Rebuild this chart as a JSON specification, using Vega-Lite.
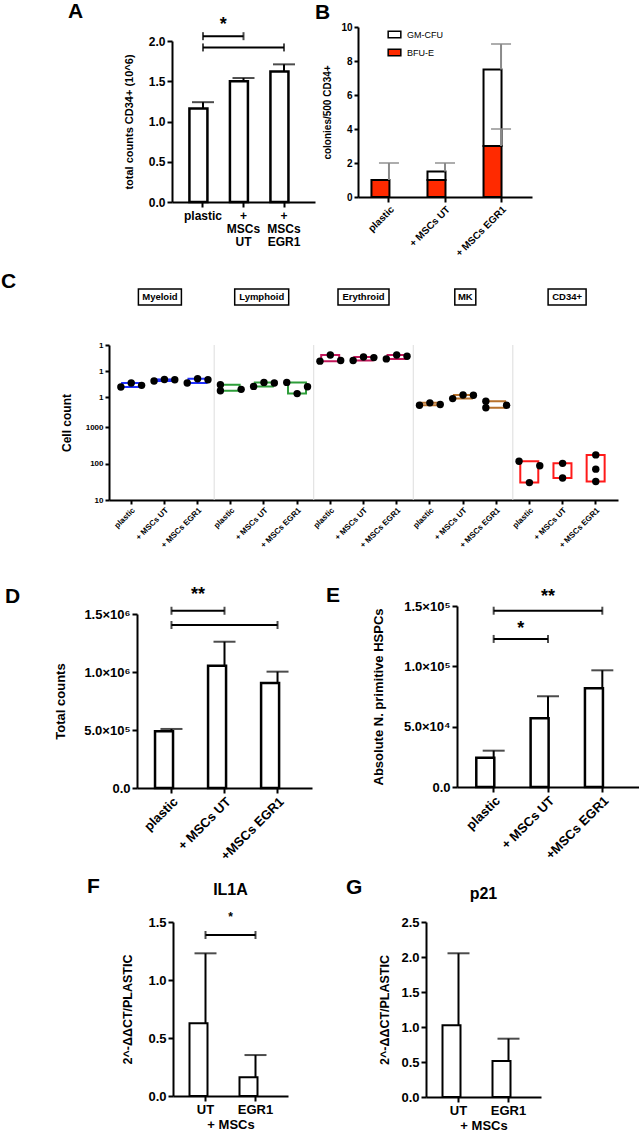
{
  "$schema": "https://vega.github.io/schema/vega-lite/v6.json",
  "padding": 0,
  "spacing": 0,
  "columns": 1,
  "align": "none",
  "resolve": {"scale": {"color": "independent", "shape": "independent"}, "legend": {"color": "independent", "shape": "independent"}},
  "datasets": {
    "a_bars": [
      {"cond": "plastic", "mean": 1.16, "upper": 1.24},
      {"cond": "+ MSCs UT", "mean": 1.5, "upper": 1.54},
      {"cond": "+ MSCs EGR1", "mean": 1.62, "upper": 1.71}
    ],
    "b_bars": [
      {"cond": "plastic", "type": "BFU-E", "value": 1},
      {"cond": "plastic", "type": "GM-CFU", "value": 0},
      {"cond": "+ MSCs UT", "type": "BFU-E", "value": 1},
      {"cond": "+ MSCs UT", "type": "GM-CFU", "value": 0.5},
      {"cond": "+ MSCs EGR1", "type": "BFU-E", "value": 3},
      {"cond": "+ MSCs EGR1", "type": "GM-CFU", "value": 4.5}
    ],
    "b_err": [
      {"cond": "plastic", "lo": 1, "hi": 2},
      {"cond": "+ MSCs UT", "lo": 1.5, "hi": 2},
      {"cond": "+ MSCs EGR1", "lo": 3, "hi": 4},
      {"cond": "+ MSCs EGR1", "lo": 7.5, "hi": 9}
    ],
    "c_head": [
      {"cat": "Myeloid|+ MSCs UT", "group": "Myeloid"},
      {"cat": "Lymphoid|+ MSCs UT", "group": "Lymphoid"},
      {"cat": "Erythroid|+ MSCs UT", "group": "Erythroid"},
      {"cat": "MK|+ MSCs UT", "group": "MK"},
      {"cat": "CD34+|+ MSCs UT", "group": "CD34+"}
    ],
    "c_sep": [
      {"cat": "Lymphoid|plastic"},
      {"cat": "Erythroid|plastic"},
      {"cat": "MK|plastic"},
      {"cat": "CD34+|plastic"}
    ],
    "c_pts": [
      {"cat": "Myeloid|plastic", "group": "Myeloid", "rep": 1, "value": 243000},
      {"cat": "Myeloid|plastic", "group": "Myeloid", "rep": 2, "value": 345000},
      {"cat": "Myeloid|plastic", "group": "Myeloid", "rep": 3, "value": 280000},
      {"cat": "Myeloid|+ MSCs UT", "group": "Myeloid", "rep": 1, "value": 412000},
      {"cat": "Myeloid|+ MSCs UT", "group": "Myeloid", "rep": 2, "value": 474000},
      {"cat": "Myeloid|+ MSCs UT", "group": "Myeloid", "rep": 3, "value": 461000},
      {"cat": "Myeloid|+ MSCs EGR1", "group": "Myeloid", "rep": 1, "value": 345000},
      {"cat": "Myeloid|+ MSCs EGR1", "group": "Myeloid", "rep": 2, "value": 504000},
      {"cat": "Myeloid|+ MSCs EGR1", "group": "Myeloid", "rep": 3, "value": 461000},
      {"cat": "Lymphoid|plastic", "group": "Lymphoid", "rep": 1, "value": 297000},
      {"cat": "Lymphoid|plastic", "group": "Lymphoid", "rep": 1, "value": 175000},
      {"cat": "Lymphoid|plastic", "group": "Lymphoid", "rep": 3, "value": 197000},
      {"cat": "Lymphoid|+ MSCs UT", "group": "Lymphoid", "rep": 1, "value": 256000},
      {"cat": "Lymphoid|+ MSCs UT", "group": "Lymphoid", "rep": 2, "value": 364000},
      {"cat": "Lymphoid|+ MSCs UT", "group": "Lymphoid", "rep": 3, "value": 345000},
      {"cat": "Lymphoid|+ MSCs EGR1", "group": "Lymphoid", "rep": 1, "value": 364000},
      {"cat": "Lymphoid|+ MSCs EGR1", "group": "Lymphoid", "rep": 2, "value": 135000},
      {"cat": "Lymphoid|+ MSCs EGR1", "group": "Lymphoid", "rep": 3, "value": 249000},
      {"cat": "Erythroid|plastic", "group": "Erythroid", "rep": 1, "value": 2390000},
      {"cat": "Erythroid|plastic", "group": "Erythroid", "rep": 2, "value": 4150000},
      {"cat": "Erythroid|plastic", "group": "Erythroid", "rep": 3, "value": 2520000},
      {"cat": "Erythroid|+ MSCs UT", "group": "Erythroid", "rep": 1, "value": 2520000},
      {"cat": "Erythroid|+ MSCs UT", "group": "Erythroid", "rep": 2, "value": 3480000},
      {"cat": "Erythroid|+ MSCs UT", "group": "Erythroid", "rep": 3, "value": 3270000},
      {"cat": "Erythroid|+ MSCs EGR1", "group": "Erythroid", "rep": 1, "value": 2920000},
      {"cat": "Erythroid|+ MSCs EGR1", "group": "Erythroid", "rep": 2, "value": 4150000},
      {"cat": "Erythroid|+ MSCs EGR1", "group": "Erythroid", "rep": 3, "value": 3710000},
      {"cat": "MK|plastic", "group": "MK", "rep": 1, "value": 48200},
      {"cat": "MK|plastic", "group": "MK", "rep": 2, "value": 59600},
      {"cat": "MK|plastic", "group": "MK", "rep": 3, "value": 51300},
      {"cat": "MK|+ MSCs UT", "group": "MK", "rep": 1, "value": 86900},
      {"cat": "MK|+ MSCs UT", "group": "MK", "rep": 2, "value": 120000},
      {"cat": "MK|+ MSCs UT", "group": "MK", "rep": 3, "value": 116000},
      {"cat": "MK|+ MSCs EGR1", "group": "MK", "rep": 1, "value": 68500},
      {"cat": "MK|+ MSCs EGR1", "group": "MK", "rep": 1, "value": 38400},
      {"cat": "MK|+ MSCs EGR1", "group": "MK", "rep": 3, "value": 48200},
      {"cat": "CD34+|plastic", "group": "CD34+", "rep": 1, "value": 115},
      {"cat": "CD34+|plastic", "group": "CD34+", "rep": 3, "value": 87},
      {"cat": "CD34+|plastic", "group": "CD34+", "rep": 2, "value": 30},
      {"cat": "CD34+|+ MSCs UT", "group": "CD34+", "rep": 2, "value": 101},
      {"cat": "CD34+|+ MSCs UT", "group": "CD34+", "rep": 2, "value": 40},
      {"cat": "CD34+|+ MSCs EGR1", "group": "CD34+", "rep": 2, "value": 172},
      {"cat": "CD34+|+ MSCs EGR1", "group": "CD34+", "rep": 2, "value": 70},
      {"cat": "CD34+|+ MSCs EGR1", "group": "CD34+", "rep": 2, "value": 32}
    ],
    "d_bars": [
      {"cond": "plastic", "mean": 489000, "upper": 509000},
      {"cond": "+ MSCs UT", "mean": 1054000, "upper": 1261000},
      {"cond": "+MSCs EGR1", "mean": 905000, "upper": 1003000}
    ],
    "e_bars": [
      {"cond": "plastic", "mean": 24300, "upper": 30100},
      {"cond": "+ MSCs UT", "mean": 56900, "upper": 75200},
      {"cond": "+MSCs EGR1", "mean": 81800, "upper": 96700}
    ],
    "f_bars": [
      {"cond": "UT", "mean": 0.627, "upper": 1.23},
      {"cond": "EGR1", "mean": 0.161, "upper": 0.353}
    ],
    "g_bars": [
      {"cond": "UT", "mean": 1.024, "upper": 2.053},
      {"cond": "EGR1", "mean": 0.514, "upper": 0.833}
    ]
  },
  "concat": [
    {
      "spacing": 0,
      "resolve": {"scale": {"color": "independent"}, "legend": {"color": "independent"}},
      "hconcat": [
        {"width": 68, "height": 1, "data": {"values": []}, "mark": "point"},
        {
          "spacing": 0,
          "resolve": {"scale": {"color": "independent"}, "legend": {"color": "independent"}},
          "hconcat": [
            {
              "width": 143,
              "height": 161,
              "title": {"text": "A", "dx": -104, "dy": 10},
              "encoding": {
                "x": {
                  "field": "cond", "type": "nominal",
                  "scale": {"domain": ["plastic", "+ MSCs UT", "+ MSCs EGR1"], "paddingInner": 0.33, "paddingOuter": 0.43},
                  "axis": {"title": null, "labelAngle": 0, "labelFontSize": 12, "labelLineHeight": 13, "labelPadding": 3,
                           "labelExpr": "datum.value == 'plastic' ? 'plastic' : split(datum.value, ' ')"}
                }
              },
              "layer": [
                {
                  "data": {"name": "a_bars"},
                  "mark": {"type": "bar", "fill": "white", "stroke": "black", "strokeWidth": 2.5},
                  "encoding": {
                    "y": {"field": "mean", "type": "quantitative", "scale": {"domain": [0, 2], "nice": false},
                          "axis": {"values": [0, 0.5, 1, 1.5, 2], "tickCount": 20, "format": ".1f", "labelFontSize": 12,
                                   "title": "total counts CD34+ (10^6)", "titleFontSize": 11, "titlePadding": 14}}
                  }
                },
                {
                  "data": {"name": "a_bars"},
                  "mark": {"type": "rule", "color": "black", "strokeWidth": 2},
                  "encoding": {"y": {"field": "mean", "type": "quantitative"}, "y2": {"field": "upper"}}
                },
                {
                  "data": {"name": "a_bars"},
                  "mark": {"type": "tick", "size": 22, "thickness": 2, "color": "black"},
                  "encoding": {"y": {"field": "upper", "type": "quantitative"}}
                },
                {
                  "data": {"values": [{"a": "plastic", "b": "+ MSCs UT"}]},
                  "encoding": {"y": {"datum": 2.06, "type": "quantitative"}},
                  "layer": [
                    {"mark": {"type": "rule", "color": "black", "strokeWidth": 2},
                     "encoding": {"x": {"field": "a", "type": "nominal"}, "x2": {"field": "b"}}},
                    {"transform": [{"fold": ["a", "b"], "as": ["end", "cond"]}],
                     "mark": {"type": "tick", "orient": "vertical", "size": 8, "thickness": 2, "color": "black"},
                     "encoding": {"x": {"field": "cond", "type": "nominal"}}}
                  ]
                },
                {
                  "data": {"values": [{"a": "plastic", "b": "+ MSCs EGR1"}]},
                  "encoding": {"y": {"datum": 1.92, "type": "quantitative"}},
                  "layer": [
                    {"mark": {"type": "rule", "color": "black", "strokeWidth": 2},
                     "encoding": {"x": {"field": "a", "type": "nominal"}, "x2": {"field": "b"}}},
                    {"transform": [{"fold": ["a", "b"], "as": ["end", "cond"]}],
                     "mark": {"type": "tick", "orient": "vertical", "size": 8, "thickness": 2, "color": "black"},
                     "encoding": {"x": {"field": "cond", "type": "nominal"}}}
                  ]
                },
                {
                  "data": {"values": [{"t": "*"}]},
                  "mark": {"type": "text", "fontSize": 18, "fontWeight": "bold"},
                  "encoding": {
                    "x": {"datum": "plastic", "type": "nominal", "bandPosition": 1.25},
                    "y": {"datum": 2.2, "type": "quantitative"},
                    "text": {"field": "t"}
                  }
                }
              ]
            },
            {
              "width": 174,
              "height": 156,
              "title": {"text": "B", "dx": -43, "dy": 5},
              "encoding": {
                "x": {
                  "field": "cond", "type": "nominal",
                  "scale": {"domain": ["plastic", "+ MSCs UT", "+ MSCs EGR1"], "paddingInner": 0.375, "paddingOuter": 0.24},
                  "axis": {"title": null, "labelAngle": -45, "labelFontSize": 10, "tickSize": 5}
                }
              },
              "layer": [
                {
                  "data": {"name": "b_bars"},
                  "mark": {"type": "bar", "stroke": "black", "strokeWidth": 2},
                  "encoding": {
                    "y": {"field": "value", "type": "quantitative", "stack": "zero",
                          "scale": {"domain": [0, 10], "nice": false, "range": [156, -14]},
                          "axis": {"values": [0, 2, 4, 6, 8, 10], "tickCount": 20, "format": "d", "labelFontSize": 10, "tickSize": 4,
                                   "title": "colonies/500 CD34+", "titleFontSize": 10, "titlePadding": 8}},
                    "color": {
                      "field": "type", "type": "nominal",
                      "scale": {"domain": ["GM-CFU", "BFU-E"], "range": ["white", "#ff2a00"]},
                      "legend": {"title": null, "orient": "none", "legendX": 29, "legendY": -14, "padding": 0,
                                 "labelFontSize": 9, "labelFontWeight": "normal", "labelColor": "black",
                                 "symbolType": "M-1,-0.5H1V0.5H-1Z", "symbolSize": 160,
                                 "symbolStrokeColor": "black", "symbolStrokeWidth": 1.5,
                                 "rowPadding": 4, "labelOffset": 5}
                    },
                    "order": {"field": "type", "sort": "ascending"}
                  }
                },
                {
                  "data": {"name": "b_err"},
                  "mark": {"type": "rule", "color": "#8a8a8a", "strokeWidth": 2},
                  "encoding": {"y": {"field": "lo", "type": "quantitative"}, "y2": {"field": "hi"}}
                },
                {
                  "data": {"name": "b_err"},
                  "mark": {"type": "tick", "size": 20, "thickness": 2, "color": "#8a8a8a"},
                  "encoding": {"y": {"field": "hi", "type": "quantitative"}}
                }
              ]
            }
          ]
        }
      ]
    },
    {"width": 1, "height": 12, "data": {"values": []}, "mark": "point"},
    {
      "spacing": 0,
      "hconcat": [
        {"width": 1, "height": 1, "data": {"values": []}, "mark": "point"},
        {
          "spacing": 38,
          "bounds": "flush",
          "vconcat": [
            {
              "width": 509,
              "height": 20,
              "title": {"text": "C", "dx": -108, "dy": 10},
              "data": {"name": "c_head"},
              "encoding": {
                "x": {
                  "field": "cat", "type": "nominal",
                  "scale": {"domain": ["Myeloid|plastic", "Myeloid|+ MSCs UT", "Myeloid|+ MSCs EGR1", "Lymphoid|plastic", "Lymphoid|+ MSCs UT", "Lymphoid|+ MSCs EGR1", "Erythroid|plastic", "Erythroid|+ MSCs UT", "Erythroid|+ MSCs EGR1", "MK|plastic", "MK|+ MSCs UT", "MK|+ MSCs EGR1", "CD34+|plastic", "CD34+|+ MSCs UT", "CD34+|+ MSCs EGR1"],
                            "paddingInner": 0, "paddingOuter": 0.17},
                  "axis": null
                }
              },
              "layer": [
                {
                  "mark": {"type": "point", "size": 400, "filled": true, "fill": "white", "stroke": "black", "strokeWidth": 1.5, "opacity": 1},
                  "encoding": {
                    "shape": {
                      "field": "group", "type": "nominal",
                      "scale": {"domain": ["Myeloid", "Lymphoid", "Erythroid", "MK", "CD34+"],
                                "range": ["M-2.15,-0.8H2.15V0.8H-2.15Z", "M-2.7,-0.8H2.7V0.8H-2.7Z", "M-2.55,-0.8H2.55V0.8H-2.55Z", "M-1.05,-0.8H1.05V0.8H-1.05Z", "M-1.9,-0.8H1.9V0.8H-1.9Z"]},
                      "legend": null
                    }
                  }
                },
                {
                  "mark": {"type": "text", "fontSize": 9.5, "fontWeight": "bold", "color": "black"},
                  "encoding": {"text": {"field": "group"}}
                }
              ]
            },
            {
              "width": 509,
              "height": 155,
              "encoding": {
                "x": {
                  "field": "cat", "type": "nominal",
                  "scale": {"domain": ["Myeloid|plastic", "Myeloid|+ MSCs UT", "Myeloid|+ MSCs EGR1", "Lymphoid|plastic", "Lymphoid|+ MSCs UT", "Lymphoid|+ MSCs EGR1", "Erythroid|plastic", "Erythroid|+ MSCs UT", "Erythroid|+ MSCs EGR1", "MK|plastic", "MK|+ MSCs UT", "MK|+ MSCs EGR1", "CD34+|plastic", "CD34+|+ MSCs UT", "CD34+|+ MSCs EGR1"],
                            "paddingInner": 0, "paddingOuter": 0.17},
                  "axis": {"title": null, "labelAngle": -45, "labelFontSize": 8, "tickSize": 4, "labelExpr": "split(datum.value, '|')[1]"}
                }
              },
              "layer": [
                {
                  "data": {"name": "c_sep"},
                  "mark": {"type": "rule", "color": "#dddddd", "strokeWidth": 1},
                  "encoding": {"x": {"field": "cat", "type": "nominal", "bandPosition": 0}}
                },
                {
                  "data": {"name": "c_pts"},
                  "mark": {"type": "bar", "filled": false, "strokeWidth": 2, "width": {"band": 0.55}},
                  "encoding": {
                    "y": {"aggregate": "min", "field": "value", "type": "quantitative",
                          "scale": {"type": "log", "domain": [10, 1000, 10000, 10000000], "range": [155, 82, 78, 0], "nice": false},
                          "axis": {"values": [10, 100, 1000, 100000, 1000000, 10000000], "tickCount": 20, "labelFontSize": 8, "tickSize": 4,
                                   "labelExpr": "datum.value >= 10000 ? '1' : '' + datum.value",
                                   "title": "Cell count", "titleFontSize": 12, "titlePadding": 12}},
                    "y2": {"aggregate": "max", "field": "value"},
                    "color": {
                      "field": "group", "type": "nominal",
                      "scale": {"domain": ["Myeloid", "Lymphoid", "Erythroid", "MK", "CD34+"],
                                "range": ["#1f2fff", "#2e9e3a", "#c2185b", "#b8722c", "#ff1a1a"]},
                      "legend": null
                    }
                  }
                },
                {
                  "data": {"name": "c_pts"},
                  "mark": {"type": "point", "filled": true, "color": "black", "size": 55, "opacity": 1},
                  "encoding": {
                    "xOffset": {"field": "rep", "type": "nominal", "scale": {"domain": [1, 2, 3], "paddingInner": 0, "paddingOuter": 0.6}},
                    "y": {"field": "value", "type": "quantitative"}
                  }
                }
              ]
            }
          ]
        }
      ]
    },
    {"width": 1, "height": 34, "data": {"values": []}, "mark": "point"},
    {
      "spacing": 0,
      "hconcat": [
        {"width": 5, "height": 1, "data": {"values": []}, "mark": "point"},
        {
          "spacing": 14,
          "hconcat": [
            {
              "width": 175,
              "height": 182,
              "title": {"text": "D", "dx": -132, "dy": 25},
              "encoding": {
                "x": {
                  "field": "cond", "type": "nominal",
                  "scale": {"domain": ["plastic", "+ MSCs UT", "+MSCs EGR1"], "paddingInner": 0.38, "paddingOuter": 0.34},
                  "axis": {"title": null, "labelAngle": -45, "labelFontSize": 13}
                }
              },
              "layer": [
                {
                  "data": {"name": "d_bars"},
                  "mark": {"type": "bar", "fill": "white", "stroke": "black", "strokeWidth": 2.5},
                  "encoding": {
                    "y": {"field": "mean", "type": "quantitative", "scale": {"domain": [0, 1500000], "nice": false, "range": [182, 8]},
                          "axis": {"values": [0, 500000, 1000000, 1500000], "tickCount": 20, "labelFontSize": 13,
                                   "labelExpr": "datum.value == 0 ? '0.0' : datum.value == 500000 ? '5.0×10⁵' : datum.value == 1000000 ? '1.0×10⁶' : '1.5×10⁶'",
                                   "title": "Total counts", "titleFontSize": 13, "titlePadding": 16}}
                  }
                },
                {
                  "data": {"name": "d_bars"},
                  "mark": {"type": "rule", "color": "black", "strokeWidth": 2},
                  "encoding": {"y": {"field": "mean", "type": "quantitative"}, "y2": {"field": "upper"}}
                },
                {
                  "data": {"name": "d_bars"},
                  "mark": {"type": "tick", "size": 22, "thickness": 2, "color": "black"},
                  "encoding": {"y": {"field": "upper", "type": "quantitative"}}
                },
                {
                  "data": {"values": [{"a": "plastic", "b": "+ MSCs UT"}]},
                  "encoding": {"y": {"datum": 1528000, "type": "quantitative"}},
                  "layer": [
                    {"mark": {"type": "rule", "color": "black", "strokeWidth": 2},
                     "encoding": {"x": {"field": "a", "type": "nominal"}, "x2": {"field": "b"}}},
                    {"transform": [{"fold": ["a", "b"], "as": ["end", "cond"]}],
                     "mark": {"type": "tick", "orient": "vertical", "size": 8, "thickness": 2, "color": "black"},
                     "encoding": {"x": {"field": "cond", "type": "nominal"}}}
                  ]
                },
                {
                  "data": {"values": [{"a": "plastic", "b": "+MSCs EGR1"}]},
                  "encoding": {"y": {"datum": 1405000, "type": "quantitative"}},
                  "layer": [
                    {"mark": {"type": "rule", "color": "black", "strokeWidth": 2},
                     "encoding": {"x": {"field": "a", "type": "nominal"}, "x2": {"field": "b"}}},
                    {"transform": [{"fold": ["a", "b"], "as": ["end", "cond"]}],
                     "mark": {"type": "tick", "orient": "vertical", "size": 8, "thickness": 2, "color": "black"},
                     "encoding": {"x": {"field": "cond", "type": "nominal"}}}
                  ]
                },
                {
                  "data": {"values": [{"t": "**"}]},
                  "mark": {"type": "text", "fontSize": 18, "fontWeight": "bold"},
                  "encoding": {
                    "x": {"datum": "plastic", "type": "nominal", "bandPosition": 1.31},
                    "y": {"datum": 1664000, "type": "quantitative"},
                    "text": {"field": "t"}
                  }
                }
              ]
            },
            {
              "width": 182,
              "height": 181,
              "title": {"text": "E", "dx": -131, "dy": 22},
              "encoding": {
                "x": {
                  "field": "cond", "type": "nominal",
                  "scale": {"domain": ["plastic", "+ MSCs UT", "+MSCs EGR1"], "paddingInner": 0.36, "paddingOuter": 0.355},
                  "axis": {"title": null, "labelAngle": -45, "labelFontSize": 13}
                }
              },
              "layer": [
                {
                  "data": {"name": "e_bars"},
                  "mark": {"type": "bar", "fill": "white", "stroke": "black", "strokeWidth": 2.5},
                  "encoding": {
                    "y": {"field": "mean", "type": "quantitative", "scale": {"domain": [0, 150000], "nice": false},
                          "axis": {"values": [0, 50000, 100000, 150000], "tickCount": 20, "labelFontSize": 13,
                                   "labelExpr": "datum.value == 0 ? '0.0' : datum.value == 50000 ? '5.0×10⁴' : datum.value == 100000 ? '1.0×10⁵' : '1.5×10⁵'",
                                   "title": "Absolute N. primitive HSPCs", "titleFontSize": 13, "titlePadding": 18}}
                  }
                },
                {
                  "data": {"name": "e_bars"},
                  "mark": {"type": "rule", "color": "black", "strokeWidth": 2},
                  "encoding": {"y": {"field": "mean", "type": "quantitative"}, "y2": {"field": "upper"}}
                },
                {
                  "data": {"name": "e_bars"},
                  "mark": {"type": "tick", "size": 22, "thickness": 2, "color": "black"},
                  "encoding": {"y": {"field": "upper", "type": "quantitative"}}
                },
                {
                  "data": {"values": [{"a": "plastic", "b": "+MSCs EGR1"}]},
                  "encoding": {"y": {"datum": 146100, "type": "quantitative"}},
                  "layer": [
                    {"mark": {"type": "rule", "color": "black", "strokeWidth": 2},
                     "encoding": {"x": {"field": "a", "type": "nominal"}, "x2": {"field": "b"}}},
                    {"transform": [{"fold": ["a", "b"], "as": ["end", "cond"]}],
                     "mark": {"type": "tick", "orient": "vertical", "size": 8, "thickness": 2, "color": "black"},
                     "encoding": {"x": {"field": "cond", "type": "nominal"}}}
                  ]
                },
                {
                  "data": {"values": [{"a": "plastic", "b": "+ MSCs UT"}]},
                  "encoding": {"y": {"datum": 122700, "type": "quantitative"}},
                  "layer": [
                    {"mark": {"type": "rule", "color": "black", "strokeWidth": 2},
                     "encoding": {"x": {"field": "a", "type": "nominal"}, "x2": {"field": "b"}}},
                    {"transform": [{"fold": ["a", "b"], "as": ["end", "cond"]}],
                     "mark": {"type": "tick", "orient": "vertical", "size": 8, "thickness": 2, "color": "black"},
                     "encoding": {"x": {"field": "cond", "type": "nominal"}}}
                  ]
                },
                {
                  "data": {"values": [{"t": "**"}]},
                  "mark": {"type": "text", "fontSize": 18, "fontWeight": "bold"},
                  "encoding": {
                    "x": {"datum": "+ MSCs UT", "type": "nominal"},
                    "y": {"datum": 157500, "type": "quantitative"},
                    "text": {"field": "t"}
                  }
                },
                {
                  "data": {"values": [{"t": "*"}]},
                  "mark": {"type": "text", "fontSize": 18, "fontWeight": "bold"},
                  "encoding": {
                    "x": {"datum": "plastic", "type": "nominal", "bandPosition": 1.28},
                    "y": {"datum": 131000, "type": "quantitative"},
                    "text": {"field": "t"}
                  }
                }
              ]
            }
          ]
        }
      ]
    },
    {"width": 1, "height": 12, "data": {"values": []}, "mark": "point"},
    {
      "spacing": 0,
      "hconcat": [
        {"width": 87, "height": 1, "data": {"values": []}, "mark": "point"},
        {
          "spacing": 58,
          "hconcat": [
            {
              "width": 115,
              "height": 174,
              "title": {"text": "F", "dx": -86, "dy": 19},
              "encoding": {
                "x": {
                  "field": "cond", "type": "nominal",
                  "scale": {"domain": ["UT", "EGR1"], "paddingInner": 0.36, "paddingOuter": 0.33},
                  "axis": {"title": "+ MSCs", "titleFontSize": 13, "titlePadding": 2, "labelAngle": 0, "labelFontSize": 13}
                }
              },
              "layer": [
                {
                  "data": {"name": "f_bars"},
                  "mark": {"type": "bar", "fill": "white", "stroke": "black", "strokeWidth": 2},
                  "encoding": {
                    "y": {"field": "mean", "type": "quantitative", "scale": {"domain": [0, 1.5], "nice": false},
                          "axis": {"values": [0, 0.5, 1, 1.5], "tickCount": 20, "format": ".1f", "labelFontSize": 13,
                                   "title": "2^-ΔΔCT/PLASTIC", "titleFontSize": 12.5, "titlePadding": 13}}
                  }
                },
                {
                  "data": {"name": "f_bars"},
                  "mark": {"type": "rule", "color": "black", "strokeWidth": 2},
                  "encoding": {"y": {"field": "mean", "type": "quantitative"}, "y2": {"field": "upper"}}
                },
                {
                  "data": {"name": "f_bars"},
                  "mark": {"type": "tick", "size": 22, "thickness": 2, "color": "black"},
                  "encoding": {"y": {"field": "upper", "type": "quantitative"}}
                },
                {
                  "data": {"values": [{"a": "UT", "b": "EGR1"}]},
                  "encoding": {"y": {"datum": 1.388, "type": "quantitative"}},
                  "layer": [
                    {"mark": {"type": "rule", "color": "black", "strokeWidth": 2},
                     "encoding": {"x": {"field": "a", "type": "nominal"}, "x2": {"field": "b"}}},
                    {"transform": [{"fold": ["a", "b"], "as": ["end", "cond"]}],
                     "mark": {"type": "tick", "orient": "vertical", "size": 8, "thickness": 2, "color": "black"},
                     "encoding": {"x": {"field": "cond", "type": "nominal"}}}
                  ]
                },
                {
                  "data": {"values": [{"t": "*"}]},
                  "mark": {"type": "text", "fontSize": 12, "fontWeight": "bold"},
                  "encoding": {
                    "x": {"datum": "UT", "type": "nominal", "bandPosition": 1.28},
                    "y": {"datum": 1.54, "type": "quantitative"},
                    "text": {"field": "t"}
                  }
                },
                {
                  "data": {"values": [{"t": "IL1A"}]},
                  "mark": {"type": "text", "fontSize": 16, "fontWeight": "bold"},
                  "encoding": {
                    "x": {"datum": "UT", "type": "nominal", "bandPosition": 1.28},
                    "y": {"datum": 1.78, "type": "quantitative"},
                    "text": {"field": "t"}
                  }
                }
              ]
            },
            {
              "width": 115,
              "height": 175,
              "title": {"text": "G", "dx": -80, "dy": 16},
              "encoding": {
                "x": {
                  "field": "cond", "type": "nominal",
                  "scale": {"domain": ["UT", "EGR1"], "paddingInner": 0.36, "paddingOuter": 0.33},
                  "axis": {"title": "+ MSCs", "titleFontSize": 13, "titlePadding": 2, "labelAngle": 0, "labelFontSize": 13}
                }
              },
              "layer": [
                {
                  "data": {"name": "g_bars"},
                  "mark": {"type": "bar", "fill": "white", "stroke": "black", "strokeWidth": 2},
                  "encoding": {
                    "y": {"field": "mean", "type": "quantitative", "scale": {"domain": [0, 2.5], "nice": false},
                          "axis": {"values": [0, 0.5, 1, 1.5, 2, 2.5], "tickCount": 20, "format": ".1f", "labelFontSize": 13,
                                   "title": "2^-ΔΔCT/PLASTIC", "titleFontSize": 12.5, "titlePadding": 9}}
                  }
                },
                {
                  "data": {"name": "g_bars"},
                  "mark": {"type": "rule", "color": "black", "strokeWidth": 2},
                  "encoding": {"y": {"field": "mean", "type": "quantitative"}, "y2": {"field": "upper"}}
                },
                {
                  "data": {"name": "g_bars"},
                  "mark": {"type": "tick", "size": 22, "thickness": 2, "color": "black"},
                  "encoding": {"y": {"field": "upper", "type": "quantitative"}}
                },
                {
                  "data": {"values": [{"t": "p21"}]},
                  "mark": {"type": "text", "fontSize": 16, "fontWeight": "bold"},
                  "encoding": {
                    "x": {"datum": "UT", "type": "nominal", "bandPosition": 1.28},
                    "y": {"datum": 2.9, "type": "quantitative"},
                    "text": {"field": "t"}
                  }
                }
              ]
            }
          ]
        }
      ]
    }
  ],
  "config": {
    "view": {"stroke": null},
    "font": "Liberation Sans",
    "axis": {
      "domainColor": "black", "domainWidth": 2, "tickColor": "black", "tickWidth": 2, "tickSize": 5,
      "labelColor": "black", "titleColor": "black", "labelFontWeight": "bold", "titleFontWeight": "bold",
      "grid": false, "labelPadding": 2, "labelOverlap": false, "labelFont": "Liberation Sans", "titleFont": "Liberation Sans"
    },
    "title": {"fontSize": 21, "fontWeight": "bold", "anchor": "start", "frame": "group", "color": "black", "offset": 0, "font": "Liberation Sans"},
    "text": {"font": "Liberation Sans", "color": "black"}
  }
}
